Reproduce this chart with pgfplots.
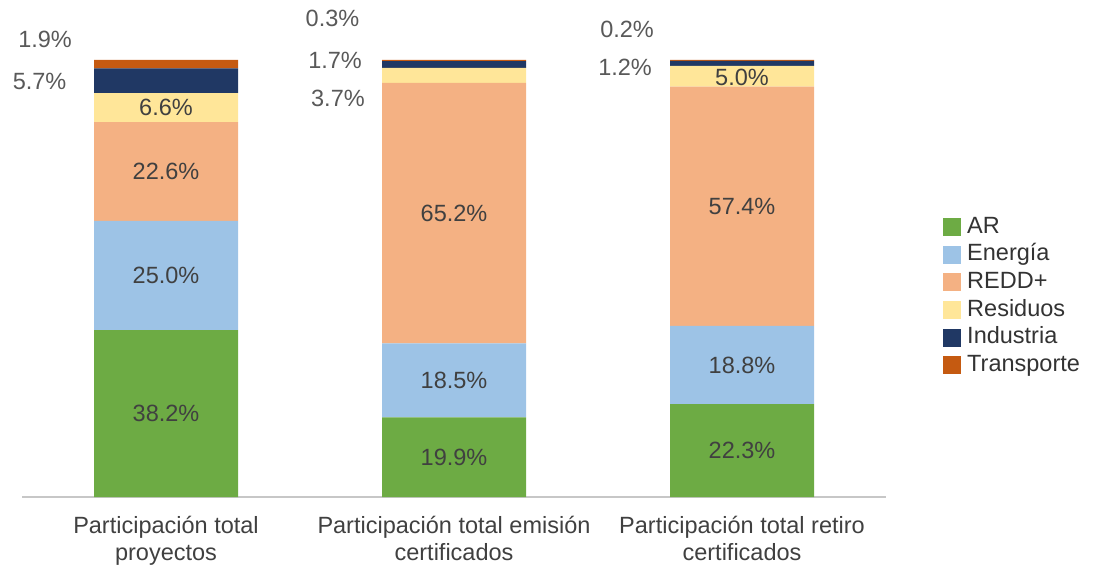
\documentclass[border=0pt]{standalone}
\usepackage{pgfplots}
\pgfplotsset{compat=1.18}
\usepackage{pgfplotstable}
\usepackage{fontspec}
\setmainfont{Liberation Sans}
\definecolor{cAR}{HTML}{6DAB44}
\definecolor{cEne}{HTML}{9DC3E6}
\definecolor{cRED}{HTML}{F4B183}
\definecolor{cRes}{HTML}{FFE699}
\definecolor{cInd}{HTML}{203864}
\definecolor{cTra}{HTML}{C55A11}
\definecolor{txt}{HTML}{404040}
\definecolor{txtout}{HTML}{595959}
\newcommand\fs{\fontsize{23.5bp}{27bp}\selectfont}

% Bar heights: stated shares, each bar scaled to a full column
% (bar 2 labels sum to 109.3, bar 3 labels to 104.9)
\pgfplotstableread{
x AR Ene REDD Res Ind Tra
0 38.2 25.0 22.6 6.6 5.7 1.9
1 18.207 16.926 59.652 3.385 1.555 0.274
2 21.258 17.922 54.719 4.766 1.144 0.191
}\bars

\pgfplotstableread{
x y t
0 19.1 38.2
0 50.7 25.0
0 74.5 22.6
0 89.1 6.6
1 9.10 19.9
1 26.67 18.5
1 64.96 65.2
2 10.63 22.3
2 30.22 18.8
2 66.54 57.4
2 96.09 5.0
}\inlab

\pgfplotstableread{
x y t
-0.420 104.6 1.9
-0.439 95.0 5.7
0.578 109.6 0.3
0.587 100.0 1.7
0.597 91.3 3.7
1.601 107.1 0.2
1.594 98.2 1.2
}\outlab

\begin{document}
\begin{tikzpicture}
\useasboundingbox (0,0) rectangle (1093bp,566bp);
\begin{axis}[
  at={(22bp,69bp)}, anchor=south west,
  scale only axis, width=864bp, height=437bp,
  xmin=-0.5, xmax=2.5, ymin=0, ymax=100,
  ybar stacked, bar width=0.5,
  axis x line*=bottom, axis y line=none,
  axis line style={draw=black!22, line width=2bp},
  xtick={0,1,2}, major tick length=0pt,
  xticklabels={{Participación total\\proyectos},{Participación total emisión\\certificados},{Participación total retiro\\certificados}},
  xticklabel style={align=center, font=\fs, text=txt, inner sep=0pt, anchor=north, yshift=-19bp},
  clip=false,
  legend image code/.code={\fill[#1] (0bp,-9bp) rectangle (18bp,9bp);},
  legend cell align=left,
  legend style={draw=none, fill=none, font=\fs, text=black!80, at={(1.066,0.643)}, anchor=north west,
    inner sep=0pt, row sep=5.6bp, nodes={inner sep=0pt, text height=17bp, text depth=5bp},
    /tikz/every odd column/.append style={column sep=6bp}},
]
\addplot[fill=cAR, draw=none] table[x=x, y=AR] {\bars};
\addlegendentry{AR}
\addplot[fill=cEne, draw=none] table[x=x, y=Ene] {\bars};
\addlegendentry{Energía}
\addplot[fill=cRED, draw=none] table[x=x, y=REDD] {\bars};
\addlegendentry{REDD+}
\addplot[fill=cRes, draw=none] table[x=x, y=Res] {\bars};
\addlegendentry{Residuos}
\addplot[fill=cInd, draw=none] table[x=x, y=Ind] {\bars};
\addlegendentry{Industria}
\addplot[fill=cTra, draw=none] table[x=x, y=Tra] {\bars};
\addlegendentry{Transporte}
\end{axis}
\begin{axis}[
  at={(22bp,69bp)}, anchor=south west,
  scale only axis, width=864bp, height=437bp,
  xmin=-0.5, xmax=2.5, ymin=0, ymax=100,
  hide axis, clip=false,
]
\addplot[draw=none, nodes near coords={\pgfplotspointmeta\%}, point meta=explicit symbolic,
  every node near coord/.style={anchor=center, font=\fs, text=txt, inner sep=0pt}]
  table[x=x, y=y, meta=t] {\inlab};
\addplot[draw=none, nodes near coords={\pgfplotspointmeta\%}, point meta=explicit symbolic,
  every node near coord/.style={anchor=center, font=\fs, text=txtout, inner sep=0pt}]
  table[x=x, y=y, meta=t] {\outlab};
\end{axis}
\end{tikzpicture}
\end{document}
